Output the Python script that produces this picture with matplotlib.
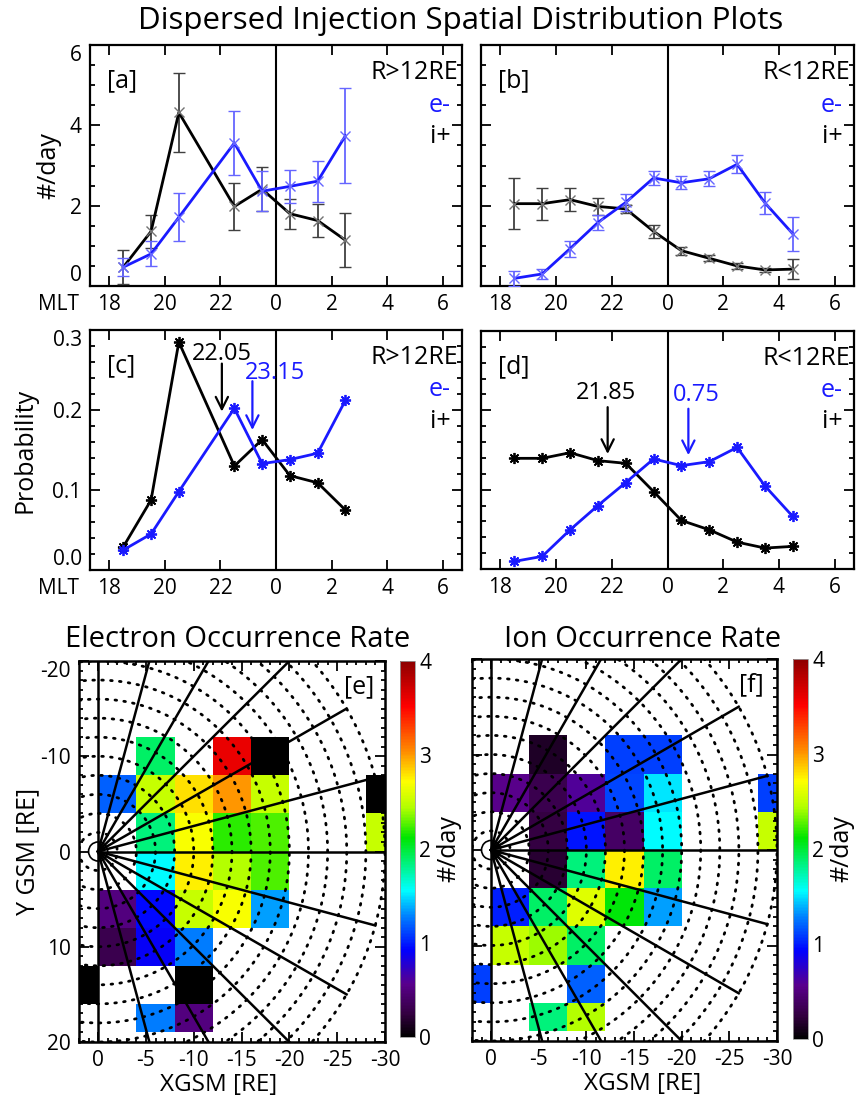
import numpy as np
import matplotlib
matplotlib.use('Agg')
import matplotlib.pyplot as plt
from matplotlib.colors import LinearSegmentedColormap
from matplotlib.ticker import MultipleLocator
from matplotlib.patches import Circle

plt.rcParams['font.family'] = ['Open Sans', 'DejaVu Sans']
plt.rcParams['axes.unicode_minus'] = False

# ---------------- data ----------------
mlt_a = [18.5, 19.5, 20.5, 22.5, 23.5, 0.5, 1.5, 2.5]
rate_a_ion = [0.47, 1.36, 4.32, 1.98, 2.41, 1.80, 1.63, 1.14]
err_a_ion = [0.42, 0.42, 0.98, 0.59, 0.55, 0.37, 0.40, 0.67]
rate_a_ele = [0.47, 0.80, 1.71, 3.56, 2.36, 2.48, 2.61, 3.74]
err_a_ele = [0.22, 0.31, 0.60, 0.79, 0.50, 0.42, 0.51, 1.18]

mlt_b = [18.5, 19.5, 20.5, 21.5, 22.5, 23.5, 0.5, 1.5, 2.5, 3.5, 4.5]
rate_b_ion = [2.05, 2.05, 2.15, 1.98, 1.92, 1.36, 0.88, 0.69, 0.50, 0.40, 0.42]
err_b_ion = [0.64, 0.40, 0.28, 0.21, 0.10, 0.17, 0.10, 0.07, 0.07, 0.06, 0.25]
rate_b_ele = [0.19, 0.30, 0.93, 1.58, 2.08, 2.69, 2.57, 2.67, 3.03, 2.07, 1.30]
err_b_ele = [0.19, 0.13, 0.20, 0.18, 0.22, 0.18, 0.16, 0.19, 0.22, 0.27, 0.42]

prob_c_ion = [0.029, 0.0875, 0.285, 0.130, 0.163, 0.118, 0.109, 0.075]
prob_c_ele = [0.025, 0.045, 0.098, 0.202, 0.133, 0.138, 0.146, 0.212]
prob_d_ion = [0.1395, 0.1395, 0.1466, 0.1366, 0.1332, 0.0976, 0.0612, 0.0494, 0.0339, 0.0264, 0.0285]
prob_d_ele = [0.0096, 0.0159, 0.0494, 0.080, 0.109, 0.1387, 0.1303, 0.1353, 0.1533, 0.1047, 0.0662]

peak_c_ion, peak_c_ele = 22.05, 23.15
peak_d_ion, peak_d_ele = 21.85, 0.75

mlt_ticks = [18, 20, 22, 0, 2, 4, 6]
rate_ticks = [0, 2, 4, 6]
prob_ticks = [0.0, 0.1, 0.2, 0.3]

x_edges = [4, 0, -4, -8, -12, -16, -20, -24, -28, -32]
y_edges = [-12, -8, -4, 0, 4, 8, 12, 16, 19]
nan = np.nan
ele_rate = [
    [nan, nan, 1.90, nan, 3.60, 0.00, nan, nan, nan],
    [nan, 1.20, 2.50, 2.80, 3.00, 2.50, nan, nan, 0.00],
    [nan, nan, 1.85, 2.70, 2.20, 2.25, nan, nan, 2.50],
    [nan, nan, 1.55, 2.75, 2.45, 2.25, nan, nan, nan],
    [nan, 0.50, 0.95, 2.50, 2.70, 1.35, nan, nan, nan],
    [nan, 0.30, 0.90, 1.28, nan, nan, nan, nan, nan],
    [0.00, nan, nan, 0.00, nan, nan, nan, nan, nan],
    [nan, nan, 1.28, 0.50, nan, nan, nan, nan, nan],
]
ion_rate = [
    [nan, nan, 0.15, nan, 1.10, 1.10, nan, nan, nan],
    [nan, 0.55, 0.30, 0.60, 1.12, 1.50, nan, nan, 1.10],
    [nan, nan, 0.25, 0.97, 0.40, 1.55, nan, nan, 2.50],
    [nan, nan, 0.20, 1.85, 2.75, 1.90, nan, nan, nan],
    [nan, 1.00, 1.90, 2.60, 2.10, 1.35, nan, nan, nan],
    [nan, 2.50, 2.40, 1.90, nan, nan, nan, nan, nan],
    [1.10, nan, nan, 1.20, nan, nan, nan, nan, nan],
    [nan, nan, 1.85, 2.45, nan, nan, nan, nan, nan],
]

# ---------------- style ----------------
BLUE = (0.1, 0.1, 1.0)
EBLUE = (0.4, 0.4, 1.0)
EBLACK = (0.25, 0.25, 0.25)
FS = 15      # tick labels
LFS = 18     # labels
NFS = 17     # peak annotations
TFS = 22.5   # main title
SFS = 21     # map titles
W, H = 859, 1105

def rect(l, t, r, b):
    return [l / W, 1 - b / H, (r - l) / W, (b - t) / H]

def hrs(m):
    return np.array([v - 24 if v > 12 else v for v in m], dtype=float)

fig = plt.figure(figsize=(W / 100, H / 100), dpi=100)

fig.text(461 / W, 1 - 29 / H, 'Dispersed Injection Spatial Distribution Plots',
         ha='center', va='baseline', fontsize=TFS)

def style_line_axes(ax, ylim, yticks, ymin, ylabels, ylabel=None, mlt=False, ytl=None, lpad=4):
    ax.set_xlim(-6.7, 6.7)
    ax.axvline(0, color='black', lw=1.5, zorder=1)
    ax.set_xticks(hrs(mlt_ticks))
    ax.set_xticklabels([str(t) for t in mlt_ticks])
    ax.set_yticks(yticks)
    ax.set_yticklabels(ytl if ylabels else [])
    ax.yaxis.set_minor_locator(MultipleLocator(ymin))
    ax.set_ylim(*ylim)
    ax.tick_params(axis='both', which='both', direction='in', top=True, right=True,
                   labelsize=FS, width=1.3, pad=6)
    ax.tick_params(which='major', length=7)
    ax.tick_params(which='minor', length=3.5)
    for s in ax.spines.values():
        s.set_linewidth(1.6)
    if ylabels:
        tl = ax.get_yticklabels()
        tl[0].set_va('bottom')
        tl[-1].set_va('top')
    if ylabel:
        ax.set_ylabel(ylabel, fontsize=LFS, labelpad=lpad)
    if mlt:
        ax.annotate('MLT', xy=(0, 0), xycoords='axes fraction', xytext=(-8, -6),
                    textcoords='offset points', ha='right', va='top', fontsize=FS)

def labels_block(ax, tag, region):
    ax.text(0.045, 0.85, tag, transform=ax.transAxes, fontsize=LFS, va='center', ha='left')
    ax.text(0.99, 0.885, region, transform=ax.transAxes, fontsize=LFS, va='center', ha='right')
    ax.text(0.97, 0.75, 'e-', transform=ax.transAxes, fontsize=LFS, va='center', ha='right', color=BLUE)
    ax.text(0.97, 0.62, 'i+', transform=ax.transAxes, fontsize=LFS, va='center', ha='right')

# ---- (a)
ax_a = fig.add_axes(rect(90, 45, 462, 286))
ax_a.errorbar(hrs(mlt_a), rate_a_ion, yerr=err_a_ion, color='black', ecolor=EBLACK, lw=2,
              elinewidth=1.3, capsize=4, marker='x', ms=7, mec=(0.45, 0.45, 0.45), zorder=3)
ax_a.errorbar(hrs(mlt_a), rate_a_ele, yerr=err_a_ele, color=BLUE, ecolor=EBLUE, lw=2,
              elinewidth=1.3, capsize=4, marker='x', ms=7, mec=EBLUE, zorder=4)
style_line_axes(ax_a, (0, 6), rate_ticks, 0.5, True, '#/day', mlt=True,
                ytl=[str(t) for t in rate_ticks], lpad=6)
labels_block(ax_a, '[a]', 'R>12RE')

# ---- (b)
ax_b = fig.add_axes(rect(481, 45, 854, 286))
ax_b.errorbar(hrs(mlt_b), rate_b_ion, yerr=err_b_ion, color='black', ecolor=EBLACK, lw=2,
              elinewidth=1.3, capsize=4, marker='x', ms=7, mec=(0.45, 0.45, 0.45), zorder=3)
ax_b.errorbar(hrs(mlt_b), rate_b_ele, yerr=err_b_ele, color=BLUE, ecolor=EBLUE, lw=2,
              elinewidth=1.3, capsize=4, marker='x', ms=7, mec=EBLUE, zorder=4)
style_line_axes(ax_b, (0, 6), rate_ticks, 0.5, False)
labels_block(ax_b, '[b]', 'R<12RE')

AST = (8, 2, 0)
arrow = dict(arrowstyle='->', lw=1.6, mutation_scale=22, shrinkA=0, shrinkB=0)

# ---- (c)
ax_c = fig.add_axes(rect(90, 330, 462, 570))
ax_c.plot(hrs(mlt_a), prob_c_ion, color='black', lw=2, marker=AST, ms=8, mew=1.3, zorder=3)
ax_c.plot(hrs(mlt_a), prob_c_ele, color=BLUE, lw=2, marker=AST, ms=8, mew=1.3, zorder=4)
style_line_axes(ax_c, (0, 0.3), prob_ticks, 0.02, True, 'Probability', mlt=True,
                ytl=[f'{t:.1f}' for t in prob_ticks], lpad=11)
labels_block(ax_c, '[c]', 'R>12RE')
xi = hrs([peak_c_ion])[0]
xe = hrs([peak_c_ele])[0]
ax_c.annotate('', xy=(xi, 0.198), xytext=(xi, 0.258), arrowprops=dict(arrow, color='black'))
ax_c.text(xi, 0.263, f'{peak_c_ion:.2f}', ha='center', va='baseline', fontsize=NFS)
ax_c.annotate('', xy=(xe, 0.175), xytext=(xe, 0.236), arrowprops=dict(arrow, color=BLUE))
ax_c.text(xe - 0.27, 0.239, f'{peak_c_ele:.2f}', ha='left', va='baseline', fontsize=NFS, color=BLUE)

# ---- (d)
ax_d = fig.add_axes(rect(481, 331, 854, 569))
ax_d.plot(hrs(mlt_b), prob_d_ion, color='black', lw=2, marker=AST, ms=8, mew=1.3, zorder=3)
ax_d.plot(hrs(mlt_b), prob_d_ele, color=BLUE, lw=2, marker=AST, ms=8, mew=1.3, zorder=4)
style_line_axes(ax_d, (0, 0.3), prob_ticks, 0.02, False)
labels_block(ax_d, '[d]', 'R<12RE')
xi = hrs([peak_d_ion])[0]
xe = hrs([peak_d_ele])[0]
ax_d.annotate('', xy=(xi, 0.145), xytext=(xi, 0.204), arrowprops=dict(arrow, color='black'))
ax_d.text(xi - 0.05, 0.214, f'{peak_d_ion:.2f}', ha='center', va='baseline', fontsize=NFS)
ax_d.annotate('', xy=(xe, 0.1435), xytext=(xe, 0.202), arrowprops=dict(arrow, color=BLUE))
ax_d.text(xe - 0.55, 0.212, f'{peak_d_ele:.2f}', ha='left', va='baseline', fontsize=NFS, color=BLUE)

# ---------------- maps ----------------
cmap = LinearSegmentedColormap.from_list('idl', [
    (0.00, (0.0, 0.0, 0.0)),
    (0.06, (0.2, 0.0, 0.25)),
    (0.14, (0.35, 0.0, 0.55)),
    (0.23, (0.0, 0.0, 1.0)),
    (0.32, (0.0, 0.5, 1.0)),
    (0.39, (0.0, 1.0, 1.0)),
    (0.53, (0.0, 0.9, 0.0)),
    (0.61, (0.7, 1.0, 0.0)),
    (0.68, (1.0, 1.0, 0.0)),
    (0.76, (1.0, 0.55, 0.0)),
    (0.88, (1.0, 0.0, 0.0)),
    (1.00, (0.55, 0.0, 0.0)),
])

def draw_map(ax, cax, data, title, tag, yl, title_x, xlab_x):
    mesh = ax.pcolormesh(x_edges, y_edges, np.ma.masked_invalid(np.array(data)),
                         cmap=cmap, vmin=0, vmax=4, zorder=1)
    th = np.linspace(0, 2 * np.pi, 721)
    for r in range(2, 31, 2):
        ax.plot(r * np.cos(th), r * np.sin(th), color='black', lw=2,
                ls=(0, (0.6, 2.6)), dash_capstyle='round', zorder=2)
    for ang in range(-90, 91, 15):
        a = np.deg2rad(ang)
        ax.plot([0, -30 * np.cos(a)], [0, 30 * np.sin(a)], color='black', lw=1.8, zorder=3)
    ax.add_patch(Circle((0, 0), 1.0, facecolor='white', edgecolor='black', lw=1.2, zorder=2.5))
    ax.set_xlim(2, -30)
    ax.set_ylim(20, -20)
    ax.set_xticks([0, -5, -10, -15, -20, -25, -30])
    ax.xaxis.set_minor_locator(MultipleLocator(1))
    ax.set_yticks([-20, -10, 0, 10, 20])
    ax.yaxis.set_minor_locator(MultipleLocator(1))
    ax.tick_params(axis='both', which='both', direction='in', top=True, right=True,
                   labelsize=FS, width=1.3, pad=6)
    ax.tick_params(which='major', length=7)
    ax.tick_params(which='minor', length=3)
    for s in ax.spines.values():
        s.set_linewidth(1.8)
        s.set_zorder(5)
    ax.set_xlabel('XGSM [RE]', fontsize=17.5, labelpad=1)
    ax.xaxis.label.set_x(xlab_x)
    if yl:
        ax.set_ylabel('Y GSM [RE]', fontsize=LFS, labelpad=0)
        ax.get_yticklabels()[0].set_va('top')
    else:
        ax.set_yticklabels([])
    ax.text(-27.3, -17.3, tag, fontsize=LFS, ha='center', va='center', zorder=6,
            bbox=dict(facecolor='white', edgecolor='none', pad=0.3))
    fig.text(title_x / W, 1 - 647 / H, title, ha='center', va='baseline', fontsize=SFS)
    cb = fig.colorbar(mesh, cax=cax, ticks=[0, 1, 2, 3, 4])
    cb.ax.tick_params(length=0, labelsize=FS, pad=3)
    cb.outline.set_linewidth(0.6)
    cb.outline.set_edgecolor('0.6')
    cb.set_label('#/day', fontsize=LFS, rotation=90, labelpad=4)

ax_e = fig.add_axes(rect(79, 661, 385, 1042))
cax_e = fig.add_axes(rect(400, 661, 415, 1037))
draw_map(ax_e, cax_e, ele_rate, 'Electron Occurrence Rate', '[e]', True, 238, 0.455)

ax_f = fig.add_axes(rect(472, 659, 777, 1041))
cax_f = fig.add_axes(rect(793, 659, 808, 1039))
draw_map(ax_f, cax_f, ion_rate, 'Ion Occurrence Rate', '[f]', False, 643, 0.56)

fig.savefig('out.png', dpi=100)
